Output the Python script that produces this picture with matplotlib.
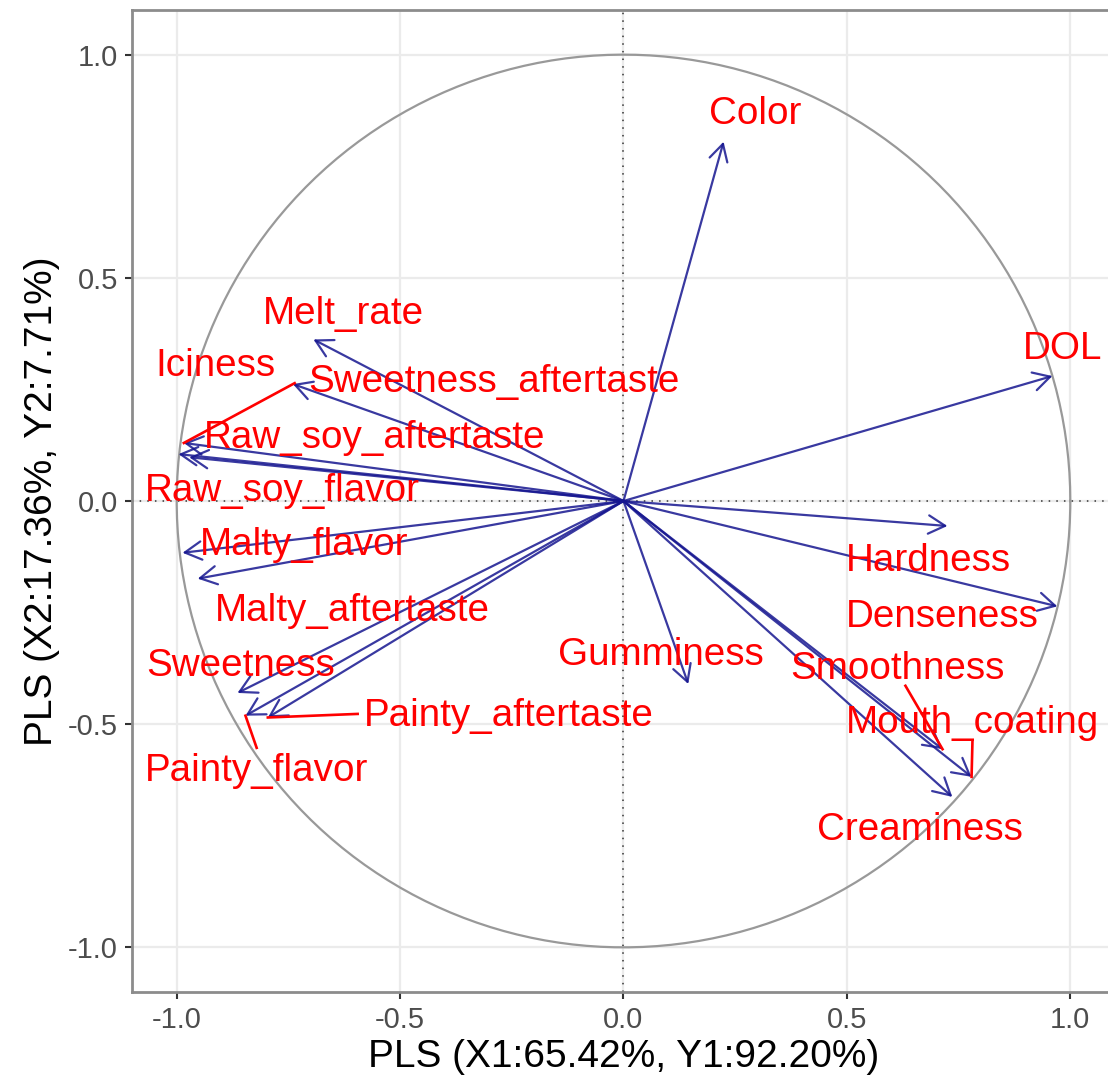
import numpy as np
import matplotlib.pyplot as plt

plt.rcParams['font.family'] = ['Liberation Sans', 'DejaVu Sans']

# loadings (arrow tips)
variables = ['Color', 'DOL', 'Melt_rate', 'Iciness', 'Sweetness_aftertaste',
             'Raw_soy_aftertaste', 'Raw_soy_flavor', 'Malty_flavor',
             'Malty_aftertaste', 'Sweetness', 'Painty_flavor',
             'Painty_aftertaste', 'Gumminess', 'Hardness', 'Denseness',
             'Smoothness', 'Mouth_coating', 'Creaminess']
load_x = [0.224, 0.960, -0.694, -0.740, -0.984, -0.996, -0.972, -0.987,
          -0.953, -0.864, -0.846, -0.796, 0.145, 0.725, 0.971,
          0.714, 0.779, 0.736]
load_y = [0.805, 0.280, 0.362, 0.262, 0.130, 0.105, 0.098, -0.116,
          -0.174, -0.430, -0.481, -0.485, -0.410, -0.056, -0.236,
          -0.556, -0.618, -0.663]

# repelled label positions
label_x = [0.295, 0.982, -0.626, -0.913, -0.291, -0.557, -0.763, -0.714,
           -0.606, -0.857, -0.821, -0.257, 0.083, 0.682, 0.714,
           0.613, 0.781, 0.664]
label_y = [0.866, 0.340, 0.418, 0.302, 0.266, 0.141, 0.022, -0.098,
           -0.246, -0.369, -0.604, -0.481, -0.345, -0.134, -0.260,
           -0.376, -0.497, -0.738]

# connector segments (variable, end x, end y)
seg_var = ['Sweetness_aftertaste', 'Painty_aftertaste', 'Painty_flavor',
           'Smoothness', 'Mouth_coating']
seg_x = [-0.736, -0.595, -0.821, 0.631, 0.781]
seg_y = [0.264, -0.477, -0.553, -0.414, -0.538]

ticks = [-1.0, -0.5, 0.0, 0.5, 1.0]

W, H = 1108, 1085
fig = plt.figure(figsize=(W / 100, H / 100), dpi=100)
# panel: left 132px, top 10px, bottom 992px, right runs past the edge
ax = fig.add_axes([132 / W, (H - 992) / H, (1115 - 132) / W, (992 - 10) / H])
ax.set_xlim(-1.1, 1.1)
ax.set_ylim(-1.1, 1.1)

ax.grid(True, color='#EBEBEB', lw=1.6, zorder=0)
ax.set_axisbelow(True)
ax.set_xticks(ticks)
ax.set_yticks(ticks)
ax.set_xticklabels(['%.1f' % t for t in ticks])
ax.set_yticklabels(['%.1f' % t for t in ticks])
ax.tick_params(colors='#333333', labelcolor='#4D4D4D', labelsize=21,
               length=5, width=1.5, pad=5)
for sp in ax.spines.values():
    sp.set_color('#8c8c8c')
    sp.set_linewidth(2)

ax.axhline(0, color='#333333', lw=1.1, ls=(0, (1, 4)), zorder=1)
ax.axvline(0, color='#333333', lw=1.1, ls=(0, (1, 4)), zorder=1)

th = np.linspace(0, 2 * np.pi, 400)
ax.plot(np.cos(th), np.sin(th), color='#999999', lw=1.6, zorder=1)

for x, y in zip(load_x, load_y):
    ax.annotate('', xy=(x, y), xytext=(0, 0),
                arrowprops=dict(arrowstyle='->,head_length=0.6,head_width=0.33',
                                mutation_scale=20, color='#161690', lw=1.6,
                                alpha=0.85, shrinkA=0, shrinkB=0),
                zorder=3)

for v, ex, ey in zip(seg_var, seg_x, seg_y):
    i = variables.index(v)
    ax.plot([load_x[i], ex], [load_y[i], ey], color='#FF0000', lw=1.9, zorder=4)

for v, x, y in zip(variables, label_x, label_y):
    ax.text(x, y, v, color='#FF0000', fontsize=27.8, ha='center', va='center',
            zorder=5)

ax.set_xlabel('PLS (X1:65.42%, Y1:92.20%)', fontsize=28, labelpad=4)
ax.set_ylabel('PLS (X2:17.36%, Y2:7.71%)', fontsize=28, labelpad=6)

fig.savefig('out.png', dpi=100)
